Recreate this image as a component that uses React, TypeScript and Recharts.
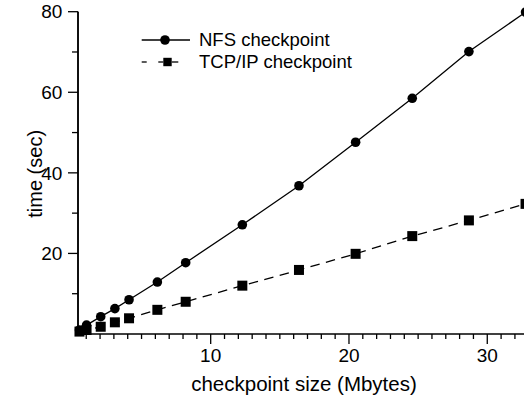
import React from 'react';
import { LineChart, Line, XAxis, YAxis, Legend, Label, ReferenceLine } from 'recharts';

// checkpoint sizes in Mbytes (multiples of 4096 KB)
const sizes = [0.512, 1.024, 2.048, 3.072, 4.096, 6.144, 8.192, 12.288, 16.384, 20.48, 24.576, 28.672, 32.768];
const nfsTimes = [1.0, 2.2, 4.3, 6.3, 8.5, 12.9, 17.7, 27.1, 36.8, 47.6, 58.5, 70.1, 79.9];
const tcpTimes = [0.6, 1.0, 1.8, 2.9, 3.9, 6.0, 8.0, 12.0, 15.9, 19.9, 24.3, 28.2, 32.3];

const seriesNames = ['NFS checkpoint', 'TCP/IP checkpoint'];

const xDomain = [0.405, 33.09];
const xTicks = [1, 2, 3, 4, 5, 6, 7, 8, 9, 10, 11, 12, 13, 14, 15, 16, 17, 18, 19, 20, 21, 22, 23, 24, 25, 26, 27, 28, 29, 30, 31, 32, 33];
const xLabeled = [10, 20, 30];
const yTicks = [10, 20, 30, 40, 50, 60, 70, 80];
const yLabeled = [20, 40, 60, 80];

const data = sizes.map((s, i) => ({ size: s, nfs: nfsTimes[i], tcp: tcpTimes[i] }));

const FONT = '"Liberation Sans", Arial, Helvetica, sans-serif';

const XTick = (props: any) => {
  const { x, y, payload } = props;
  const major = xLabeled.includes(payload.value);
  return (
    <g>
      <line x1={x} x2={x} y1={y} y2={y + (major ? 10 : 5)} stroke="#000" strokeWidth={1.3} />
      {major && (
        <text x={x} y={y + 27.7} textAnchor="middle" fontSize={19} fontFamily={FONT} fill="#000">
          {payload.value}
        </text>
      )}
    </g>
  );
};

const YTick = (props: any) => {
  const { x, y, payload } = props;
  const major = yLabeled.includes(payload.value);
  return (
    <g>
      <line x1={x - (major ? 10 : 6)} x2={x} y1={y} y2={y} stroke="#000" strokeWidth={1.3} />
      {major && (
        <text x={x - 15.7} y={y} dy="0.35em" textAnchor="end" fontSize={19} fontFamily={FONT} fill="#000">
          {payload.value}
        </text>
      )}
    </g>
  );
};

const SquareDot = (props: any) => {
  const { cx, cy, index } = props;
  return <rect key={`sq-${index}`} x={cx - 5} y={cy - 5} width={10} height={10} fill="#000" />;
};

const renderLegend = () => (
  <div style={{ fontFamily: FONT, fontSize: 18.5, color: '#000', lineHeight: 1 }}>
    <div style={{ display: 'flex', alignItems: 'center', height: 22.3 }}>
      <svg width={61} height={22}>
        <line x1={3.7} x2={52} y1={11} y2={11} stroke="#000" strokeWidth={1.3} />
        <circle cx={27} cy={11} r={4.8} fill="#000" />
      </svg>
      <span>{seriesNames[0]}</span>
    </div>
    <div style={{ display: 'flex', alignItems: 'center', height: 22.3 }}>
      <svg width={61} height={22}>
        <line x1={3.7} x2={8.7} y1={11} y2={11} stroke="#000" strokeWidth={1.3} />
        <line x1={20.3} x2={25.3} y1={11} y2={11} stroke="#000" strokeWidth={1.3} />
        <rect x={25.3} y={6.8} width={8.4} height={8.4} fill="#000" />
        <line x1={33.7} x2={40.3} y1={11} y2={11} stroke="#000" strokeWidth={1.3} />
      </svg>
      <span>{seriesNames[1]}</span>
    </div>
  </div>
);

const YLabel = (props: any) => {
  const { viewBox } = props;
  const cy = viewBox.y + viewBox.height / 2 + 1;
  return (
    <text x={42.5} y={cy} transform={`rotate(-90, 42.5, ${cy})`} textAnchor="middle" fontSize={20} fontFamily={FONT} fill="#000">
      time (sec)
    </text>
  );
};

export default function App() {
  return (
    <div style={{ position: 'absolute', left: 0, top: 0, width: 524, height: 398, overflow: 'hidden', background: '#fff' }}>
      <LineChart width={540} height={398} data={data} margin={{ top: 11.7, right: 10, bottom: 0, left: 0 }}>
        <XAxis
          dataKey="size"
          type="number"
          domain={xDomain}
          ticks={xTicks}
          interval={0}
          height={64}
          tickSize={0}
          tickMargin={0}
          tickLine={false}
          tick={<XTick />}
          axisLine={{ stroke: '#000', strokeWidth: 1.3 }}
        >
          <Label value="checkpoint size (Mbytes)" position="insideTop" offset={42.7} fontSize={20.5} fontFamily={FONT} fill="#000" />
        </XAxis>
        <YAxis
          type="number"
          domain={[0, 80]}
          ticks={yTicks}
          interval={0}
          width={78}
          tickSize={0}
          tickMargin={0}
          tickLine={false}
          tick={<YTick />}
          axisLine={{ stroke: '#000', strokeWidth: 1.5 }}
        >
          <Label content={<YLabel />} />
        </YAxis>
        {/* y axis line again, in case the axis line gets lost */}
        <ReferenceLine x={xDomain[0]} stroke="#000" strokeWidth={1.5} ifOverflow="visible" />
        <Legend
          layout="vertical"
          align="center"
          verticalAlign="middle"
          wrapperStyle={{ top: 29, left: 138, width: 260, height: 46 }}
          content={renderLegend}
        />
        <Line
          type="linear"
          dataKey="nfs"
          name={seriesNames[0]}
          stroke="#000"
          strokeWidth={1.3}
          dot={{ r: 4.8, fill: '#000', stroke: '#000', strokeWidth: 0 }}
          isAnimationActive={false}
        />
        <Line
          type="linear"
          dataKey="tcp"
          name={seriesNames[1]}
          stroke="#000"
          strokeWidth={1.3}
          strokeDasharray="9.5 6.5"
          dot={<SquareDot />}
          isAnimationActive={false}
        />
      </LineChart>
    </div>
  );
}
